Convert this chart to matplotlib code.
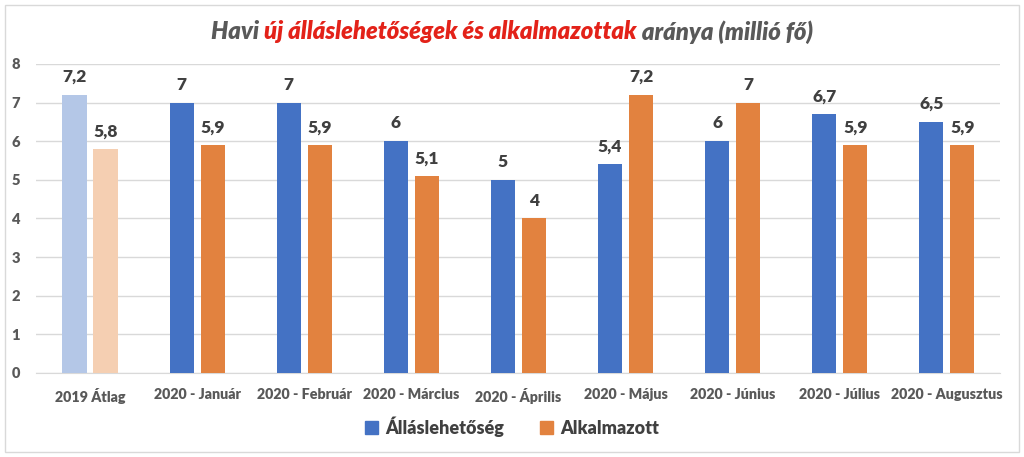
import matplotlib
matplotlib.use("Agg")
import matplotlib.pyplot as plt
import numpy as np
from matplotlib.patches import Rectangle, Patch

plt.rcParams['font.family'] = ['Lato', 'DejaVu Sans']

categories = ["2019 Átlag", "2020 - Január", "2020 - Február", "2020 - Március",
              "2020 - Április", "2020 - Május", "2020 - Június", "2020 - Július",
              "2020 - Augusztus"]
allas = [7.2, 7, 7, 6, 5, 5.4, 6, 6.7, 6.5]
alkalm = [5.8, 5.9, 5.9, 5.1, 4, 7.2, 7, 5.9, 5.9]
series_names = ["Álláslehetőség", "Alkalmazott"]

blue = "#4472C4"
orange = "#E2823F"
blue_light = "#B4C7E7"
orange_light = "#F5CFB2"
text_col = "#404040"
tick_col = "#595959"

fig = plt.figure(figsize=(10.24, 4.57), dpi=100)
fig.patch.set_facecolor("white")
fig.patches.append(Rectangle((5/1024, 5/457), 1014/1024, 447/457, transform=fig.transFigure,
                             fill=False, edgecolor="#D9D9D9", linewidth=1.0))

ax = fig.add_axes([0.0356, 0.184, 0.9414, 0.676])
x = np.arange(len(categories))
w = 0.225
off = 0.145
cb = [blue_light] + [blue] * (len(categories) - 1)
co = [orange_light] + [orange] * (len(categories) - 1)
b1 = ax.bar(x - off, allas, w, color=cb, label=series_names[0], zorder=3)
b2 = ax.bar(x + off, alkalm, w, color=co, label=series_names[1], zorder=3)

def fmt(v):
    s = f"{v:g}"
    return s.replace(".", ",")

for bars, vals in ((b1, allas), (b2, alkalm)):
    for r, v in zip(bars, vals):
        ax.annotate(fmt(v), (r.get_x() + r.get_width() / 2, v), xytext=(0, 7),
                    textcoords="offset points", ha="center", va="bottom",
                    fontsize=12.5, fontweight="heavy", color=text_col)

ax.set_xlim(-0.5, len(categories) - 0.5)
ax.set_ylim(0, 8)
ax.set_yticks(range(0, 9))
ax.grid(axis="y", color="#D9D9D9", linewidth=1, zorder=0)
for s in ("top", "right", "left"):
    ax.spines[s].set_visible(False)
ax.spines["bottom"].set_color("#D9D9D9")
ax.set_xticks(x)
ax.set_xticklabels(categories, fontsize=10.3, fontweight="heavy", color=tick_col)
ax.tick_params(axis="x", length=0, pad=11)
ax.tick_params(axis="y", length=0, pad=12, labelsize=10.5, labelcolor=tick_col)
for t in ax.get_yticklabels():
    t.set_fontweight("heavy")

handles = [Patch(color=blue), Patch(color=orange)]
fig.legend(handles, series_names, loc="center", bbox_to_anchor=(0.5, 0.066), ncol=2,
           frameon=False, prop={"size": 13, "weight": "heavy"}, labelcolor=text_col,
           handlelength=0.7, handleheight=0.7, handletextpad=0.4, columnspacing=2.0)

# Multi-colour title
parts = [("Havi ", "#595959"), ("új álláslehetőségek és alkalmazottak", "#E32219"),
         (" aránya (millió fő)", "#595959")]
fig.canvas.draw()
r = fig.canvas.get_renderer()
texts = []
for s, c in parts:
    t = fig.text(0, 0.93, s, color=c, fontsize=17.2, fontweight="heavy", fontstyle="italic",
                 ha="left", va="center")
    texts.append(t)
widths = [t.get_window_extent(r).width for t in texts]
total = sum(widths)
xpix = 512 - total / 2
for t, wd in zip(texts, widths):
    t.set_x(xpix / 1024)
    xpix += wd

fig.savefig("out.png", dpi=100, facecolor="white")
